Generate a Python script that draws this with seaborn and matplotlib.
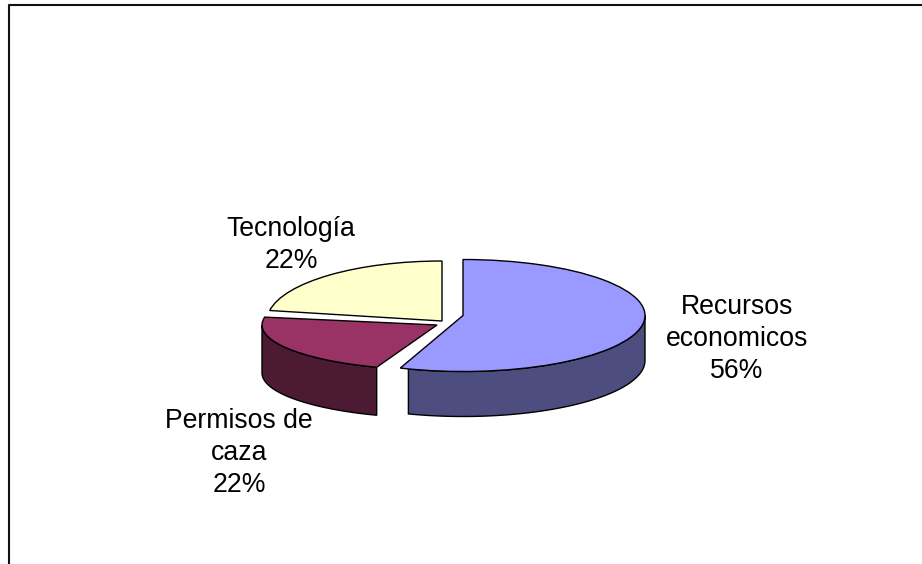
import numpy as np
import matplotlib
matplotlib.use('Agg')
import matplotlib.pyplot as plt
from matplotlib.transforms import Affine2D
import seaborn as sns

labels = ['Recursos\neconomicos', 'Permisos de\ncaza', 'Tecnología']
shares = [55.6, 22.2, 22.2]
printed = ['56%', '22%', '22%']
top_colors = ['#9999FF', '#993366', '#FFFFCC']
wall_colors = ['#4D4D80', '#4D1A33', '#808066']

# centre and radii of each exploded slice, in pixels
centers = [(463, 315.5), (437, 325), (442, 321)]
radii = [(182, 56), (175, 45), (175, 60)]
depths = [45, 48, 0]
wall_trim = [2.7, 0, 0]
label_pos = [(737, 339), (239, 453), (291, 245)]

W, H = 922, 564


def wall(ax, wedge, center, radius, depth, trim, color):
  # only the front of the rim shows, clip the arc at the left and right extremes
  a1, a2 = max(wedge.theta1 + trim, -180), min(wedge.theta2, 0)
  if depth == 0 or a2 <= a1:
    return
  t = np.radians(np.linspace(a1, a2, 80))
  x = center[0] + radius[0] * np.cos(t)
  y = center[1] + radius[1] * np.sin(t)
  xs = np.concatenate([x, x[::-1]])
  ys = np.concatenate([y, y[::-1] - depth])
  ax.fill(xs, ys, facecolor=color, edgecolor='black', linewidth=1, zorder=1)


def main():
  sns.set_theme(style='white')
  plt.rcParams['font.family'] = ['Liberation Sans', 'DejaVu Sans']

  fig = plt.figure(figsize=(W / 100, H / 100), dpi=100)
  ax = fig.add_axes([0, 0, 1, 1])

  wedges, _ = ax.pie(shares, startangle=90, counterclock=False, colors=top_colors,
                     wedgeprops={'edgecolor': 'black', 'linewidth': 1})
  ax.set_aspect('auto')
  ax.set_xlim(0, W)
  ax.set_ylim(0, H)
  ax.axis('on')
  ax.set_xticks([])
  ax.set_yticks([])

  for i, wedge in enumerate(wedges):
    cx, cy = centers[i][0], H - centers[i][1]
    wall(ax, wedge, (cx, cy), radii[i], depths[i], wall_trim[i], wall_colors[i])
    wedge.set_transform(Affine2D().scale(*radii[i]).translate(cx, cy) + ax.transData)
    wedge.set_zorder(2)

  for label, value, pos in zip(labels, printed, label_pos):
    ax.text(pos[0], H - pos[1], label + '\n' + value, ha='center', va='center',
            fontsize=19.2, color='black', linespacing=1.28, zorder=3)

  # frame of the chart area, cut off by the crop at the right and bottom
  for side in ax.spines.values():
    side.set_visible(False)
  ax.plot([9, 9, W], [0, H - 5, H - 5], color='#111111', linewidth=1.5,
          zorder=4, clip_on=False)

  fig.savefig('out.png', dpi=100)


if __name__ == '__main__':
  main()
